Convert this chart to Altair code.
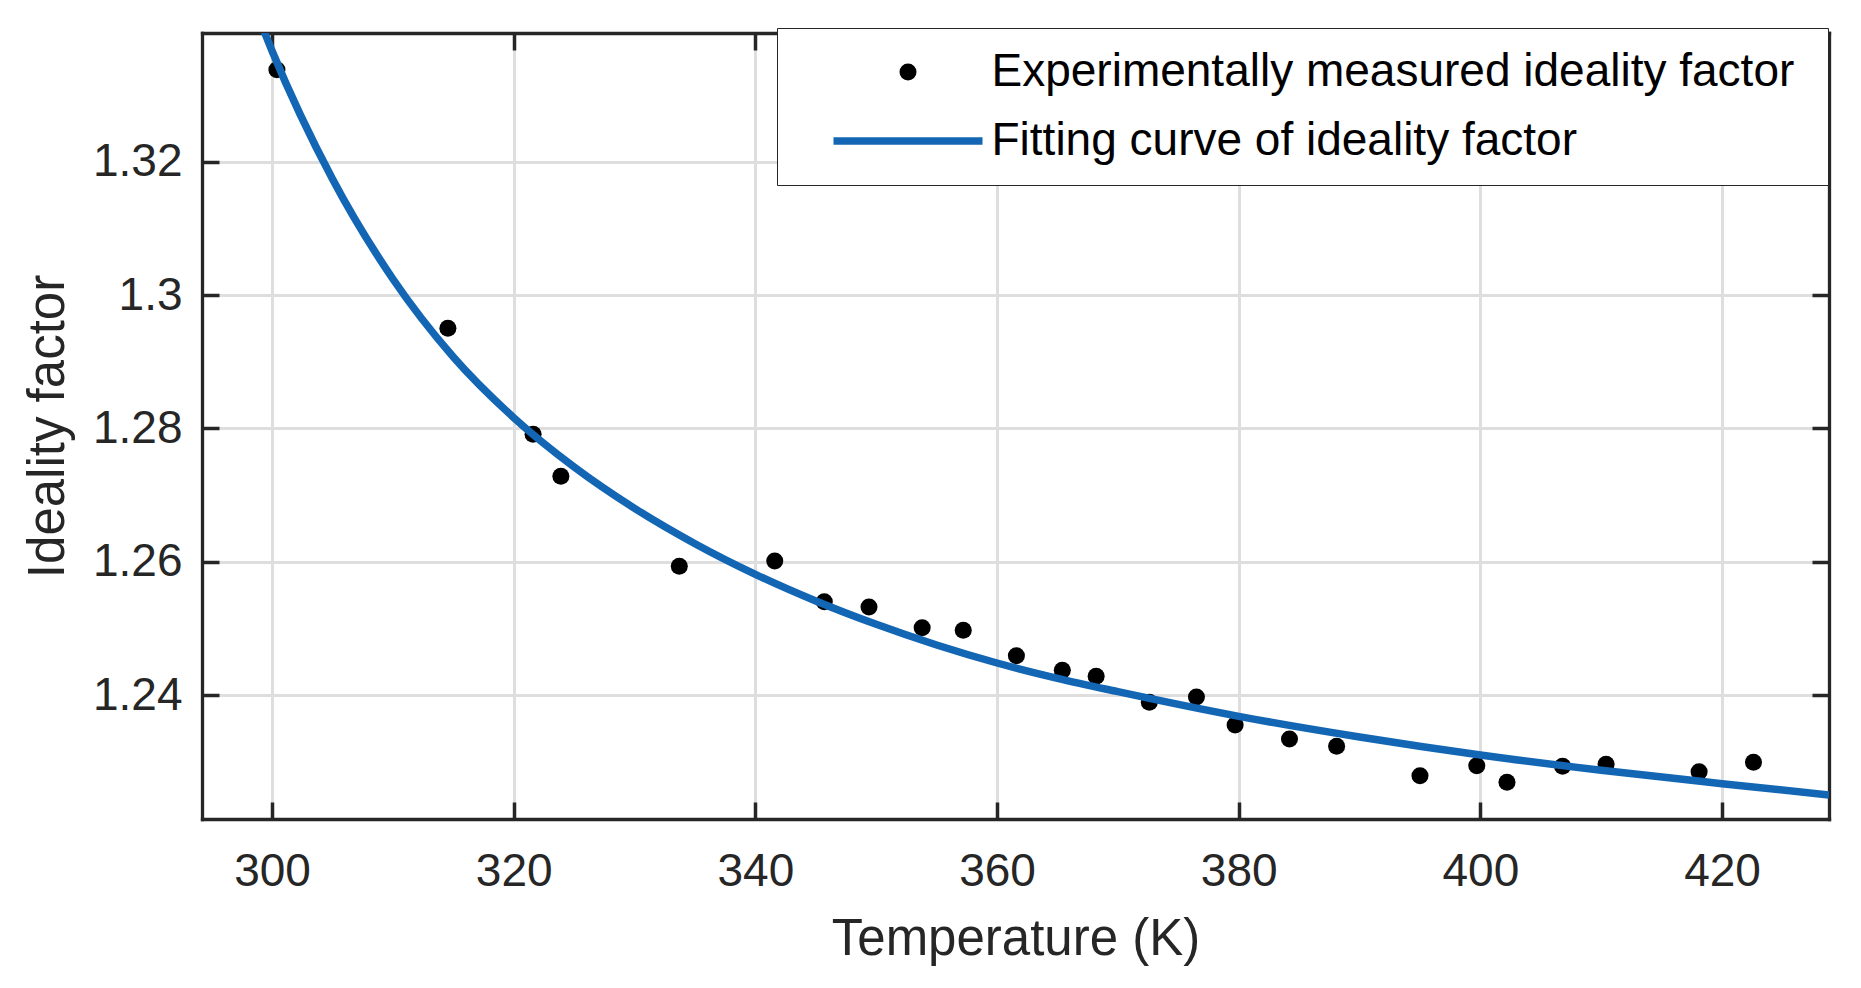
import altair as alt
import pandas as pd

# measured points
temps = [300.4, 314.55, 321.6, 323.9, 333.7, 341.6, 345.7, 349.4, 353.8, 357.2,
         361.6, 365.4, 368.2, 372.6, 376.5, 379.7, 384.2, 388.1, 395.0, 399.7,
         402.2, 406.8, 410.4, 418.1, 422.6]
ideal = [1.3338, 1.2950, 1.2791, 1.2728, 1.2593, 1.2601, 1.2540, 1.2532, 1.2501, 1.2497,
         1.2459, 1.2437, 1.2428, 1.2389, 1.2397, 1.2355, 1.2334, 1.2323, 1.2279, 1.2294,
         1.2269, 1.2293, 1.2296, 1.2285, 1.2299]

# fitting curve samples
fit_T = [299.0, 300.0, 305.0, 310.0, 315.0, 320.0, 325.0, 330.0, 335.0, 340.0,
         345.0, 350.0, 355.0, 360.0, 365.0, 370.0, 380.0, 390.0, 400.0, 410.0,
         420.0, 428.85]
fit_n = [1.3411, 1.3366, 1.3174, 1.3024, 1.2907, 1.2816, 1.2742, 1.2680, 1.2627, 1.2581,
         1.2541, 1.2506, 1.2475, 1.2448, 1.2425, 1.2405, 1.2368, 1.2337, 1.2310, 1.2287,
         1.2267, 1.2250]

x_ticks = [300, 320, 340, 360, 380, 400, 420]
y_ticks = [1.24, 1.26, 1.28, 1.30, 1.32]

S1 = "Experimentally measured ideality factor"
S2 = "Fitting curve of ideality factor"
BLUE = "#1366b3"
INK = "#262626"
FONT = "Liberation Sans"
GRID = "#dedede"
W, H = 1627, 786
LW = 7.5

pts = pd.DataFrame({"T": temps, "n": ideal, "series": S1})
fit = pd.DataFrame({"T": fit_T, "n": fit_n, "series": S2})

xscale = alt.Scale(domain=[294.2, 428.85], nice=False, zero=False)
yscale = alt.Scale(domain=[1.2214, 1.3393], nice=False, zero=False)
dom = [S1, S2]

legend = alt.Legend(
    title=" ", titleOrient="right", titlePadding=16, titleFontSize=1, titleFont=FONT,
    orient="none", legendX=575, legendY=-5, direction="vertical", columns=1,
    padding=18, fillColor="white", strokeColor=INK,
    labelFont=FONT, labelFontSize=46, labelColor="#000000", labelLimit=3000,
    labelOffset=5, symbolOffset=34.5, symbolStrokeWidth=LW,
    clipHeight=52, rowPadding=17, symbolOpacity=1,
)

fill_enc = alt.Fill("series:N", scale=alt.Scale(domain=dom, range=["#000000", BLUE]), legend=legend)
stroke_scale = alt.Scale(domain=dom, range=["transparent", BLUE])
shape_enc = alt.Shape("series:N", scale=alt.Scale(domain=dom, range=["circle", "stroke"]), legend=legend)
size_enc = alt.Size("series:N", scale=alt.Scale(type="ordinal", domain=dom, range=[290, 22201]), legend=legend)

label_style = dict(labelFont=FONT, labelFontSize=46, labelColor=INK,
                   titleFont=FONT, titleFontSize=51, titleFontWeight="normal", titleColor=INK)
tick_style = dict(tickColor=INK, tickWidth=3.5, tickSize=17, labels=False, domain=False,
                  grid=False, title=None)
frame_style = dict(domainColor=INK, domainWidth=3.3, domainCap="square")

x_bottom = alt.Axis(orient="bottom", values=x_ticks, format="d", grid=True, gridColor=GRID,
                    gridWidth=3, gridOpacity=1, ticks=False, labelPadding=30, labelFlush=False,
                    labelOverlap=False, title="Temperature (K)", titlePadding=20,
                    **frame_style, **label_style)
y_left = alt.Axis(orient="left", values=y_ticks, format=".2~f", grid=True, gridColor=GRID,
                  gridWidth=3, gridOpacity=1, ticks=False, labelPadding=20, labelFlush=False,
                  labelOverlap=False, title="Ideality factor", titlePadding=18,
                  **frame_style, **label_style)
# inward ticks on the bottom / left edges
x_tick_bottom = alt.Axis(orient="top", offset=-H, values=x_ticks, **tick_style)
y_tick_left = alt.Axis(orient="right", offset=-W, values=y_ticks, **tick_style)
# top / right frame with inward ticks
x_top = alt.Axis(orient="bottom", offset=-H, values=x_ticks, tickColor=INK, tickWidth=3.5,
                 tickSize=17, labels=False, grid=False, title=None, **frame_style)
y_right = alt.Axis(orient="left", offset=-W, values=y_ticks, tickColor=INK, tickWidth=3.5,
                   tickSize=17, labels=False, grid=False, title=None, **frame_style)

points = alt.Chart(pts).mark_point(filled=True, opacity=1).encode(
    x=alt.X("T:Q", scale=xscale, axis=x_bottom),
    y=alt.Y("n:Q", scale=yscale, axis=y_left),
    fill=fill_enc,
    stroke=alt.Stroke("series:N", scale=stroke_scale, legend=legend),
    shape=shape_enc,
    size=size_enc,
)

line = alt.Chart(fit).mark_line(strokeWidth=LW, clip=True, interpolate="monotone").encode(
    x=alt.X("T:Q", scale=xscale, axis=x_tick_bottom),
    y=alt.Y("n:Q", scale=yscale, axis=y_tick_left),
    stroke=alt.Stroke("series:N", scale=stroke_scale, legend=legend),
)

frame = alt.Chart(fit).mark_point(opacity=0).encode(
    x=alt.X("T:Q", scale=xscale, axis=x_top),
    y=alt.Y("n:Q", scale=yscale, axis=y_right),
)

chart = (
    alt.layer(points, line, frame)
    .resolve_axis(x="independent", y="independent")
    .properties(width=W, height=H,
                padding={"left": 194, "top": 25, "right": 20, "bottom": 150},
                autosize=alt.AutoSizeParams(type="none"))
    .configure_view(strokeWidth=0)
    .configure_legend(strokeWidth=3)
    .configure(background="white")
)

chart.save("out.html", embed_options={"renderer": "svg", "actions": False})
